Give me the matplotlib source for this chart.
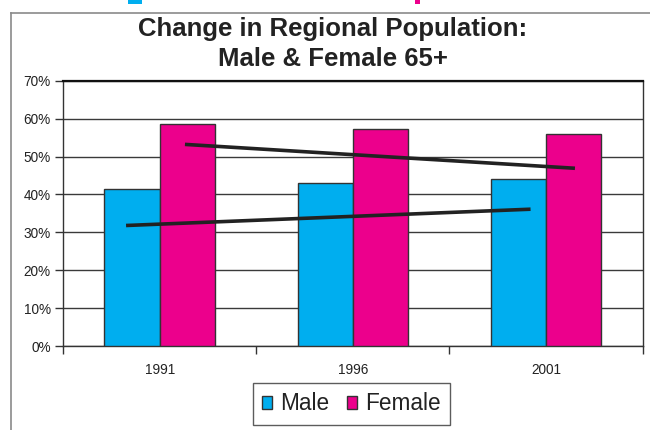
import matplotlib
matplotlib.use("Agg")
import matplotlib.pyplot as plt
from matplotlib.lines import Line2D
from matplotlib.patches import Patch, Rectangle

plt.rcParams["font.family"] = ["Liberation Sans", "DejaVu Sans"]

# chart data (percent)
YEARS = ["1991", "1996", "2001"]
MALE = [41.4, 42.9, 44.1]
FEMALE = [58.6, 57.2, 55.9]

# hand-drawn trend lines: (x in category units, y in percent)
FEMALE_TREND_X = [0.13, 2.15]
FEMALE_TREND_Y = [53.2, 46.9]
MALE_TREND_X = [-0.175, 1.92]
MALE_TREND_Y = [31.8, 36.1]

Y_TICKS = [0, 10, 20, 30, 40, 50, 60, 70]

BLUE = "#00AEEF"
PINK = "#EC008C"
EDGE = "#333333"
TEXT = "#222222"

fig = plt.figure(figsize=(6.5, 4.3), dpi=100)
ax = fig.add_axes([0.0974, 0.1953, 0.8911, 0.6170])

bw = 0.287
xs = range(len(YEARS))
ax.bar([x - bw / 2 for x in xs], MALE, width=bw, color=BLUE,
       edgecolor=EDGE, linewidth=1, zorder=3, label="Male")
ax.bar([x + bw / 2 for x in xs], FEMALE, width=bw, color=PINK,
       edgecolor=EDGE, linewidth=1, zorder=3, label="Female")

ax.plot(FEMALE_TREND_X, FEMALE_TREND_Y, color="#222222", lw=2.6,
        solid_capstyle="butt", zorder=5)
ax.plot(MALE_TREND_X, MALE_TREND_Y, color="#222222", lw=2.6,
        solid_capstyle="butt", zorder=5)

ax.set_xlim(-0.5, len(YEARS) - 0.5)
ax.set_ylim(0, 70)
ax.set_yticks(Y_TICKS)
ax.set_yticklabels([f"{v}%" for v in Y_TICKS], fontsize=9.8, color=TEXT)
ax.yaxis.grid(True, color="#3a3a3a", linewidth=1, zorder=0)
ax.set_axisbelow(True)

# category ticks on boundaries, labels in the middle
ax.set_xticks([x - 0.5 for x in range(len(YEARS) + 1)])
ax.set_xticklabels([])
ax.set_xticks(list(xs), minor=True)
ax.set_xticklabels(YEARS, minor=True, fontsize=9.8, color=TEXT)
ax.tick_params(axis="x", which="major", length=6, width=1, color=EDGE, direction="out")
ax.tick_params(axis="x", which="minor", length=0, pad=12)
ax.tick_params(axis="y", length=6, width=1, color=EDGE, direction="out", pad=3)

for side in ["left", "bottom", "right"]:
    ax.spines[side].set_color(EDGE)
    ax.spines[side].set_linewidth(1)
ax.spines["top"].set_color("#111111")
ax.spines["top"].set_linewidth(1.6)

fig.text(0.5123, 1 - 44 / 430, "Change in Regional Population:\nMale & Female 65+",
         ha="center", va="center", fontsize=18.5, fontweight="bold",
         color=TEXT, linespacing=1.3)

handles = [Patch(facecolor=BLUE, edgecolor=EDGE, label="Male"),
           Patch(facecolor=PINK, edgecolor=EDGE, label="Female")]
leg = fig.legend(handles=handles, loc="center", bbox_to_anchor=(351.5 / 650, 1 - 404 / 430),
                 ncol=2, fontsize=16.3, frameon=True, fancybox=False,
                 handlelength=0.45, handleheight=0.45, handletextpad=0.35,
                 columnspacing=0.8, borderpad=0.4, borderaxespad=0)
leg.get_frame().set_edgecolor(EDGE)
leg.get_frame().set_linewidth(1)
for t in leg.get_texts():
    t.set_color(TEXT)

# outer chart frame (grey) and cropped marks at the top edge
fig.add_artist(Line2D([11 / 650, 11 / 650], [0, 1 - 13 / 430],
                      transform=fig.transFigure, color="#8a8a8a", lw=1.2))
fig.add_artist(Line2D([11 / 650, 1], [1 - 13 / 430, 1 - 13 / 430],
                      transform=fig.transFigure, color="#8a8a8a", lw=1.2))
fig.add_artist(Rectangle((128 / 650, 1 - 4 / 430), 14 / 650, 4 / 430,
                         transform=fig.transFigure, color=BLUE, lw=0))
fig.add_artist(Rectangle((415 / 650, 1 - 4 / 430), 5 / 650, 4 / 430,
                         transform=fig.transFigure, color=PINK, lw=0))

fig.savefig("out.png", dpi=100)
